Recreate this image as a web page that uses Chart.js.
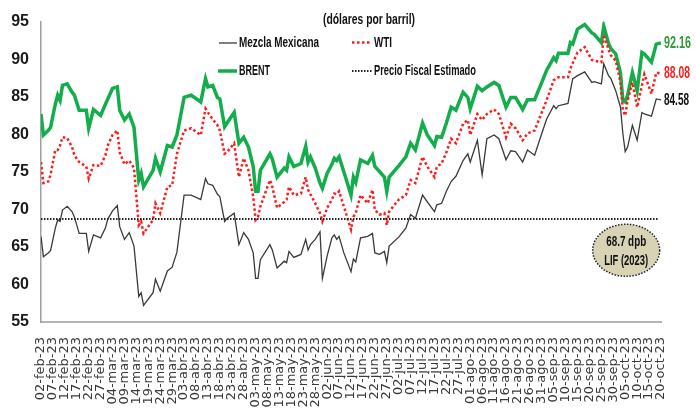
<!DOCTYPE html>
<html lang="es">
<head>
<meta charset="utf-8">
<script src="https://cdn.jsdelivr.net/npm/chart.js@4.4.0/dist/chart.umd.min.js"></script>
<style>
  html, body { margin: 0; padding: 0; background: #fff; overflow: hidden; }
  #chart { display: block; }
</style>
</head>
<body>
<canvas id="chart" width="696" height="413"></canvas>
<script>
// dias contados desde el 02-feb-23
const dias = [0, 1, 3, 4, 6, 7, 8, 9, 11, 13, 14, 16, 19, 20, 22, 25, 27, 28, 30, 32,
  33, 35, 37, 39, 41, 42, 43, 47, 48, 50, 53, 55, 57, 60, 63, 67, 69, 70, 72, 74,
  75, 77, 78, 81, 83, 85, 87, 89, 90, 91, 92, 96, 97, 99, 102, 103, 104, 106, 109, 111,
  112, 113, 115, 117, 118, 120, 122, 123, 124, 125, 127, 130, 131, 132, 134, 137, 139, 140, 142, 144,
  145, 146, 150, 153, 155, 157, 160, 162, 165, 166, 168, 170, 172, 174, 177, 179, 180, 183, 185, 187,
  190, 192, 195, 197, 199, 202, 204, 207, 210, 212, 215, 216, 217, 221, 222, 223, 225, 228, 231, 232,
  235, 236, 238, 239, 241, 243, 244, 245, 246, 248, 250, 252, 253, 256, 258, 260];

const brent = [82.7, 79.9, 80.5, 80.9, 84.0, 85.2, 84.5, 86.5, 86.7, 85.6, 85.2, 83.2, 83.2, 80.8, 83.3, 82.5, 84.0, 84.7, 86.1, 86.3,
  83.2, 81.9, 82.7, 80.9, 73.9, 74.8, 73.0, 75.2, 76.8, 75.0, 78.5, 78.3, 79.9, 84.9, 85.2, 84.3, 87.4, 86.3, 86.5, 84.9,
  84.7, 81.0, 81.5, 82.9, 78.8, 79.6, 78.3, 75.7, 72.4, 72.4, 75.2, 77.4, 76.7, 74.3, 75.5, 75.2, 77.0, 75.7, 76.1, 78.4,
  76.3, 77.0, 75.5, 73.5, 72.8, 74.8, 76.0, 76.8, 76.5, 77.0, 75.0, 71.9, 74.3, 73.6, 76.6, 76.1, 77.2, 75.7, 75.0, 74.3,
  72.4, 74.3, 75.8, 77.0, 78.8, 77.9, 81.5, 79.9, 78.5, 79.7, 79.6, 81.5, 83.6, 83.2, 85.6, 84.9, 83.4, 86.4, 85.8, 86.3,
  86.9, 86.5, 83.6, 84.9, 84.9, 83.3, 84.6, 84.6, 86.9, 88.5, 90.2, 89.8, 90.8, 90.8, 92.2, 92.0, 94.0, 94.6, 93.5, 93.3,
  92.2, 94.4, 92.1, 91.4, 90.7, 88.2, 84.5, 84.3, 85.2, 88.2, 85.8, 90.9, 90.7, 89.6, 92.0, 92.16];

const wti = [76.3, 73.5, 73.7, 74.6, 77.9, 77.9, 78.5, 79.6, 79.5, 78.3, 77.2, 76.3, 75.7, 74.1, 75.9, 75.8, 77.2, 78.5, 79.9, 80.5,
  77.6, 76.0, 76.5, 75.5, 67.9, 68.4, 66.8, 68.6, 70.8, 69.5, 73.0, 73.2, 77.4, 80.5, 80.8, 79.9, 83.4, 82.9, 82.0, 81.2,
  80.5, 77.4, 77.6, 78.8, 74.3, 76.8, 75.2, 71.7, 68.6, 69.0, 70.4, 73.9, 73.0, 70.2, 71.0, 71.3, 73.0, 71.9, 72.1, 74.3,
  72.6, 72.0, 70.8, 69.5, 68.4, 70.2, 71.3, 72.1, 72.0, 72.4, 70.4, 67.3, 69.0, 69.5, 71.9, 70.8, 72.6, 69.9, 69.3, 69.5,
  67.9, 69.7, 71.3, 71.9, 73.9, 73.5, 77.0, 75.7, 74.3, 75.7, 76.1, 77.6, 79.4, 78.8, 81.4, 81.9, 79.9, 82.7, 81.9, 82.7,
  83.3, 82.7, 79.6, 81.4, 80.8, 79.2, 80.1, 80.5, 82.9, 84.5, 87.2, 87.4, 87.6, 87.6, 88.7, 89.5, 90.9, 91.6, 89.9, 89.8,
  89.6, 93.3, 91.3, 90.5, 89.8, 86.9, 83.2, 82.5, 84.5, 86.9, 83.6, 86.5, 88.0, 85.4, 88.2, 88.08];

const mezcla = [66.4, 63.7, 64.2, 64.5, 67.5, 68.6, 68.4, 69.9, 70.4, 69.7, 69.0, 66.8, 66.8, 64.4, 66.6, 66.2, 67.5, 68.7, 69.8, 70.5,
  67.7, 66.0, 66.9, 65.1, 58.4, 58.9, 57.2, 58.9, 60.7, 59.1, 61.8, 62.3, 64.3, 71.9, 71.9, 71.3, 74.1, 73.4, 73.2, 72.0,
  71.7, 68.4, 68.8, 69.5, 65.3, 66.9, 66.0, 64.2, 60.8, 60.8, 63.3, 65.3, 64.6, 62.2, 63.1, 62.9, 64.4, 63.6, 64.0, 66.0,
  64.6, 65.3, 66.0, 67.0, 60.8, 63.8, 66.2, 66.6, 66.0, 66.4, 64.2, 61.7, 63.4, 63.0, 66.2, 66.4, 66.8, 64.2, 64.0, 64.4,
  62.9, 65.1, 66.3, 67.5, 69.3, 68.8, 71.9, 71.0, 69.7, 70.6, 70.8, 72.4, 73.7, 74.4, 76.5, 77.4, 76.3, 79.2, 74.6, 79.4,
  79.9, 79.4, 76.6, 77.8, 77.7, 76.3, 77.9, 77.2, 80.1, 82.0, 83.8, 83.4, 83.8, 84.1, 85.8, 87.4, 87.8, 88.3, 86.9, 87.0,
  86.7, 89.4, 87.8, 87.4, 85.8, 83.6, 80.1, 77.7, 78.3, 81.2, 79.2, 82.9, 82.7, 82.4, 84.7, 84.58];

const precioFiscal = 68.7;

const tickLabels = [
  '02-feb-23', '07-feb-23', '12-feb-23', '17-feb-23', '22-feb-23', '27-feb-23',
  '04-mar-23', '09-mar-23', '14-mar-23', '19-mar-23', '24-mar-23', '29-mar-23',
  '03-abr-23', '08-abr-23', '13-abr-23', '18-abr-23', '23-abr-23', '28-abr-23',
  '03-may-23', '08-may-23', '13-may-23', '18-may-23', '23-may-23', '28-may-23',
  '02-jun-23', '07-jun-23', '12-jun-23', '17-jun-23', '22-jun-23', '27-jun-23',
  '02-jul-23', '07-jul-23', '12-jul-23', '17-jul-23', '22-jul-23', '27-jul-23',
  '01-ago-23', '06-ago-23', '11-ago-23', '16-ago-23', '21-ago-23', '26-ago-23', '31-ago-23',
  '05-sep-23', '10-sep-23', '15-sep-23', '20-sep-23', '25-sep-23', '30-sep-23',
  '05-oct-23', '10-oct-23', '15-oct-23', '20-oct-23'
];

const GREEN = '#13ad4b';
const RED = '#ff1a1a';
const GREY = '#3a3a3a';
const NARROW = '"Liberation Sans Narrow", "Liberation Sans", Arial, sans-serif';

function toPoints(values) {
  return values.map((v, i) => ({ x: dias[i], y: v }));
}

// texto condensado, ajustado a un ancho dado
function fitText(ctx, text, left, midY, width, size, color) {
  ctx.save();
  ctx.font = 'bold ' + size + 'px ' + NARROW;
  ctx.fillStyle = color;
  ctx.textBaseline = 'middle';
  ctx.textAlign = 'left';
  const w = ctx.measureText(text).width;
  ctx.translate(left, midY);
  ctx.scale(width / w, 1);
  ctx.fillText(text, 0, 0);
  ctx.restore();
}

function sampleLine(ctx, x1, x2, y, color, width, dash) {
  ctx.save();
  ctx.strokeStyle = color;
  ctx.lineWidth = width;
  ctx.setLineDash(dash || []);
  ctx.beginPath();
  ctx.moveTo(x1, y);
  ctx.lineTo(x2, y);
  ctx.stroke();
  ctx.restore();
}

const extras = {
  id: 'extras',
  afterDatasetsDraw(chart) {
    const ctx = chart.ctx;
    const xs = chart.scales.x;
    const ys = chart.scales.y;

    // titulo y leyenda
    fitText(ctx, '(dólares por barril)', 323, 20, 92, 15, '#111');
    sampleLine(ctx, 219, 237, 43, GREY, 1.3);
    fitText(ctx, 'Mezcla Mexicana', 239, 43, 80, 14, '#111');
    sampleLine(ctx, 218, 237, 71, GREEN, 3.5);
    fitText(ctx, 'BRENT', 239, 71, 31, 14, '#111');
    sampleLine(ctx, 352, 372, 42.5, RED, 2.5, [2.5, 2.5]);
    fitText(ctx, 'WTI', 374, 43, 18, 14, '#111');
    sampleLine(ctx, 352, 372, 71, '#222', 2, [1.5, 1.5]);
    fitText(ctx, 'Precio Fiscal Estimado', 374, 71, 102, 14, '#111');

    // ultimos valores
    const last = dias.length - 1;
    const xEnd = xs.getPixelForValue(dias[last]) + 3;
    fitText(ctx, brent[last].toFixed(2), xEnd, ys.getPixelForValue(brent[last]), 27, 17, '#2e9a36');
    fitText(ctx, wti[last].toFixed(2), xEnd, ys.getPixelForValue(wti[last]), 26, 17, '#ff1a1a');
    fitText(ctx, mezcla[last].toFixed(2), xEnd, ys.getPixelForValue(mezcla[last]), 25, 17, '#111');

    // nota del precio fiscal
    const cx = xs.getPixelForValue(245.4);
    const cy = ys.getPixelForValue(64.55);
    ctx.save();
    ctx.beginPath();
    ctx.ellipse(cx, cy, 33.5, 26, 0, 0, Math.PI * 2);
    ctx.fillStyle = '#d8d3b5';
    ctx.fill();
    ctx.setLineDash([1.5, 1.5]);
    ctx.lineWidth = 1.5;
    ctx.strokeStyle = '#222';
    ctx.stroke();
    ctx.restore();
    fitText(ctx, precioFiscal + ' dpb', cx - 20, cy - 8.5, 40, 14, '#111');
    fitText(ctx, 'LIF (2023)', cx - 22, cy + 10.5, 44, 14, '#111');
  }
};

const ctx = document.getElementById('chart').getContext('2d');

new Chart(ctx, {
  type: 'line',
  data: {
    datasets: [
      {
        label: 'Precio Fiscal Estimado',
        data: [{ x: dias[0], y: precioFiscal }, { x: dias[dias.length - 1] - 1, y: precioFiscal }],
        borderColor: '#222',
        borderWidth: 2,
        borderDash: [1.5, 1.5],
        pointRadius: 0
      },
      {
        label: 'Mezcla Mexicana',
        data: toPoints(mezcla),
        borderColor: GREY,
        borderWidth: 1.3,
        pointRadius: 0
      },
      {
        label: 'WTI',
        data: toPoints(wti),
        borderColor: RED,
        borderWidth: 2.5,
        borderDash: [2.5, 2.5],
        pointRadius: 0
      },
      {
        label: 'BRENT',
        data: toPoints(brent),
        borderColor: GREEN,
        borderWidth: 3.5,
        pointRadius: 0
      }
    ]
  },
  options: {
    responsive: false,
    animation: false,
    layout: { padding: { top: 20, right: 35, left: 0, bottom: 0 } },
    plugins: {
      legend: { display: false },
      tooltip: { enabled: false }
    },
    scales: {
      x: {
        type: 'linear',
        min: 0,
        max: 260,
        grid: { display: false, drawTicks: false },
        border: { display: true, color: '#b5b5b5', width: 2 },
        ticks: {
          stepSize: 5,
          autoSkip: false,
          maxRotation: 90,
          minRotation: 90,
          padding: 15,
          color: '#3a3a3a',
          font: { family: '"DejaVu Sans", sans-serif', size: 13 },
          callback: (value) => tickLabels[Math.round(value / 5)]
        },
        afterFit: (scale) => { scale.height = 91; }
      },
      y: {
        min: 55,
        max: 95,
        grid: { display: false, drawTicks: false },
        border: { display: true, color: '#a0a0a0', width: 1.5 },
        ticks: {
          stepSize: 5,
          padding: 12,
          color: '#1a1a1a',
          font: { family: NARROW, size: 16, weight: 'bold' }
        },
        afterFit: (scale) => { scale.width = 41; }
      }
    }
  },
  plugins: [extras]
});
</script>
</body>
</html>
